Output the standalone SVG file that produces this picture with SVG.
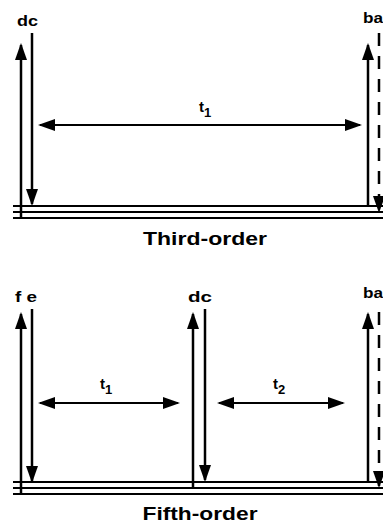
<svg xmlns="http://www.w3.org/2000/svg" width="383" height="524" viewBox="0 0 383 524">
<style>
.ln{stroke:#000;stroke-width:2.5;fill:none}
.hl{stroke:#000;stroke-width:2;fill:none}
.ds{stroke:#000;stroke-width:2.5;fill:none;stroke-dasharray:13 10}
.lb{font-family:"Liberation Sans",Arial,sans-serif;font-weight:bold;fill:#000}
</style>
<defs>
<marker id="ah" viewBox="0 0 17 12" refX="15" refY="6" markerWidth="17" markerHeight="12" markerUnits="userSpaceOnUse" orient="auto-start-reverse">
<path d="M0,0 L17,6 L0,12 z" fill="#000"/>
</marker>
</defs>
<g id="third-order">
<g id="levels3">
<line class="hl" x1="13" y1="206" x2="383" y2="206"/>
<line class="hl" x1="13" y1="212" x2="383" y2="212"/>
<line class="hl" x1="13" y1="218" x2="383" y2="218"/>
</g>
<g id="dc3">
<text class="lb" x="17" y="26" font-size="14" textLength="21" lengthAdjust="spacingAndGlyphs">dc</text>
</g>
<g id="ba3">
<text class="lb" x="363" y="23" font-size="14" textLength="20" lengthAdjust="spacingAndGlyphs">ba</text>
</g>
<g id="t1-3">
<text class="lb" x="199" y="112" font-size="15">t<tspan font-size="13" dy="5">1</tspan></text>
</g>
<text class="lb" x="205" y="245" font-size="18" text-anchor="middle" textLength="124" lengthAdjust="spacingAndGlyphs">Third-order</text>
</g>
<g id="fifth-order">
<g id="levels5">
<line class="hl" x1="13" y1="482" x2="383" y2="482"/>
<line class="hl" x1="13" y1="488" x2="383" y2="488"/>
<line class="hl" x1="13" y1="494" x2="383" y2="494"/>
</g>
<g id="fe5">
<text class="lb" x="15" y="302" font-size="14" textLength="22" lengthAdjust="spacingAndGlyphs">f e</text>
</g>
<g id="dc5">
<text class="lb" x="188" y="302" font-size="14" textLength="24" lengthAdjust="spacingAndGlyphs">dc</text>
</g>
<g id="ba5">
<text class="lb" x="363" y="298" font-size="14" textLength="20" lengthAdjust="spacingAndGlyphs">ba</text>
</g>
<g id="t1-5">
<text class="lb" x="100" y="389" font-size="15">t<tspan font-size="13" dy="5">1</tspan></text>
</g>
<g id="t2-5">
<text class="lb" x="273" y="389" font-size="15">t<tspan font-size="13" dy="5">2</tspan></text>
</g>
<text class="lb" x="200" y="520" font-size="18" text-anchor="middle" textLength="115" lengthAdjust="spacingAndGlyphs">Fifth-order</text>
</g>
<g id="connectors">
<line class="ln" x1="21" y1="218" x2="21" y2="45" marker-end="url(#ah)"/>
<line class="ln" x1="32" y1="33" x2="32" y2="204" marker-end="url(#ah)"/>
<line class="ln" x1="368" y1="207" x2="368" y2="45" marker-end="url(#ah)"/>
<line class="ds" x1="379" y1="33" x2="379" y2="211"/>
<line x1="379" y1="200" x2="379" y2="211" stroke="none" marker-end="url(#ah)"/>
<line class="hl" x1="40" y1="125" x2="360" y2="125" marker-start="url(#ah)" marker-end="url(#ah)"/>
<line class="ln" x1="21" y1="494" x2="21" y2="314" marker-end="url(#ah)"/>
<line class="ln" x1="32" y1="309" x2="32" y2="481" marker-end="url(#ah)"/>
<line class="ln" x1="193" y1="488" x2="193" y2="314" marker-end="url(#ah)"/>
<line class="ln" x1="205" y1="309" x2="205" y2="480" marker-end="url(#ah)"/>
<line class="ln" x1="368" y1="482" x2="368" y2="314" marker-end="url(#ah)"/>
<line class="ds" x1="379" y1="312" x2="379" y2="486"/>
<line x1="379" y1="475" x2="379" y2="486" stroke="none" marker-end="url(#ah)"/>
<line class="hl" x1="40" y1="403" x2="178" y2="403" marker-start="url(#ah)" marker-end="url(#ah)"/>
<line class="hl" x1="219" y1="403" x2="343" y2="403" marker-start="url(#ah)" marker-end="url(#ah)"/>
</g>
</svg>
